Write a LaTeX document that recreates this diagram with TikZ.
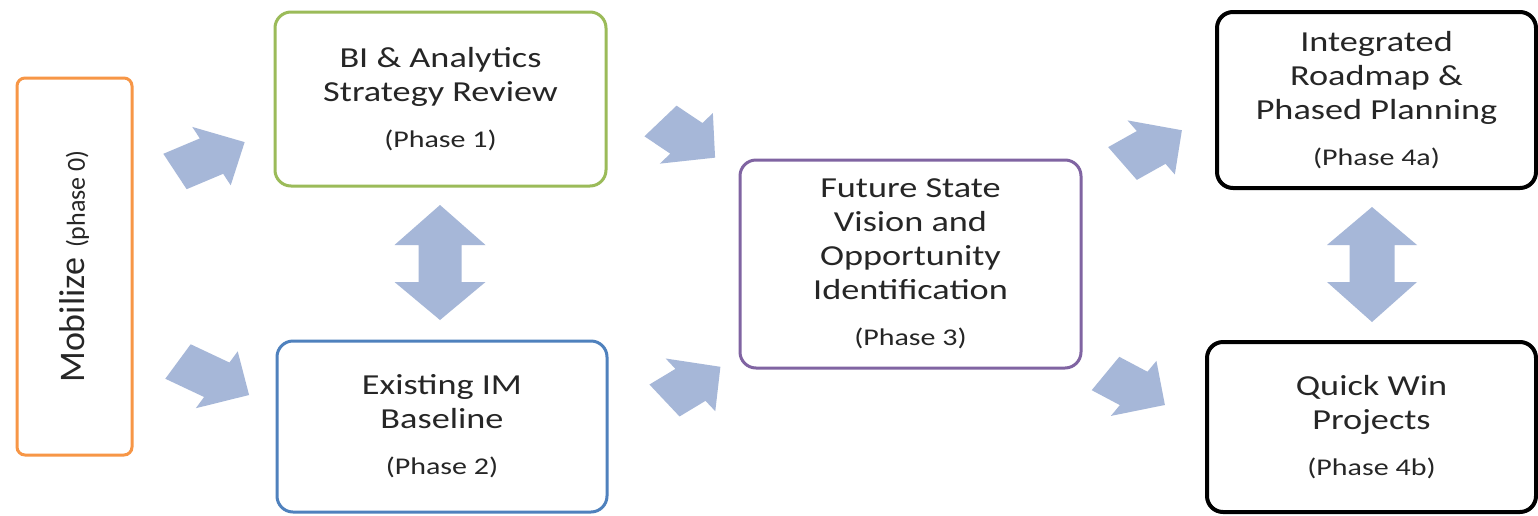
\documentclass[tikz,border=0pt]{standalone}
\usepackage{fontspec}
\setmainfont{Carlito}[FakeStretch=1.25]
\newfontfamily\mobfont{Carlito}
\definecolor{bgreen}{RGB}{155,187,89}
\definecolor{bblue}{RGB}{79,129,189}
\definecolor{bpurple}{RGB}{128,100,162}
\definecolor{borange}{RGB}{247,150,70}
\definecolor{arrfill}{RGB}{166,183,216}
\definecolor{txt}{RGB}{38,38,38}
\newcommand\blockarr[4]{%
  \begin{scope}[shift={(#1,#2)},xscale=1.25,rotate=#3]
    \fill[arrfill] (0,-20) -- (#4-30,-20) -- (#4-30,-33) -- (#4,0) -- (#4-30,33) -- (#4-30,20) -- (0,20) -- cycle;
  \end{scope}}
\begin{document}
\begin{tikzpicture}[x=0.5pt,y=-0.5pt,
  phasebox/.style={rectangle,rounded corners=8pt,line width=1.5pt,inner sep=0pt,
    align=center,text=txt,font=\fontsize{14.5}{17}\selectfont},
  blackbox/.style={phasebox,line width=2pt,draw=black}]
\useasboundingbox (0,0) rectangle (1538,515);
\fill[white] (0,0) rectangle (1538,515);
\newcommand\ph[1]{{\fontsize{12}{17}\selectfont #1}}
% Mobilize
\node[rectangle,rounded corners=4pt,draw=borange,line width=1.5pt,rotate=90,
  minimum width=188.5pt,minimum height=57.5pt,inner sep=0pt,text=txt,
  font=\mobfont\fontsize{18}{20}\selectfont] (mob) at (74.5,266.5)
  {Mobilize\hspace{5pt}{\fontsize{13}{15}\selectfont(phase 0)}};
% Phase boxes
\node[phasebox,draw=bgreen,minimum width=165.5pt,minimum height=87pt] (b1) at (440.5,99)
  {BI \& Analytics\\Strategy Review\\[6pt]\ph{(Phase 1)}};
\node[phasebox,draw=bblue,minimum width=165pt,minimum height=85.5pt] (b2) at (442,426.5)
  {Existing IM\\Baseline\\[6pt]\ph{(Phase 2)}};
\node[phasebox,draw=bpurple,minimum width=170.5pt,minimum height=104pt] (b3) at (910.5,264)
  {Future State\\Vision and\\Opportunity\\Identification\\[6pt]\ph{(Phase 3)}};
\node[blackbox,minimum width=159.5pt,minimum height=88pt] (b4a) at (1376.5,100)
  {Integrated\\Roadmap \&\\Phased Planning\\[6pt]\ph{(Phase 4a)}};
\node[blackbox,minimum width=164.5pt,minimum height=85pt] (b4b) at (1371.5,427)
  {Quick Win\\Projects\\[6pt]\ph{(Phase 4b)}};
% Block arrows
\blockarr{175}{171.5}{27.8}{63}
\blockarr{178}{361.5}{-30.5}{66}
\blockarr{660.5}{121}{-40}{57}
\blockarr{664.5}{400.5}{37}{56}
\blockarr{1122.5}{163.5}{35}{58}
\blockarr{1105.5}{373.5}{-33.5}{57}
% Double arrows
\fill[arrfill] (440,205) -- (485.5,245) -- (461.5,245) -- (461.5,282) -- (485.5,282) -- (440,320)
  -- (394.5,282) -- (418.5,282) -- (418.5,245) -- (394.5,245) -- cycle;
\fill[arrfill] (1372,207) -- (1417,245) -- (1394.5,245) -- (1394.5,282) -- (1417,282) -- (1372,322)
  -- (1327,282) -- (1349.5,282) -- (1349.5,245) -- (1327,245) -- cycle;
\end{tikzpicture}
\end{document}
